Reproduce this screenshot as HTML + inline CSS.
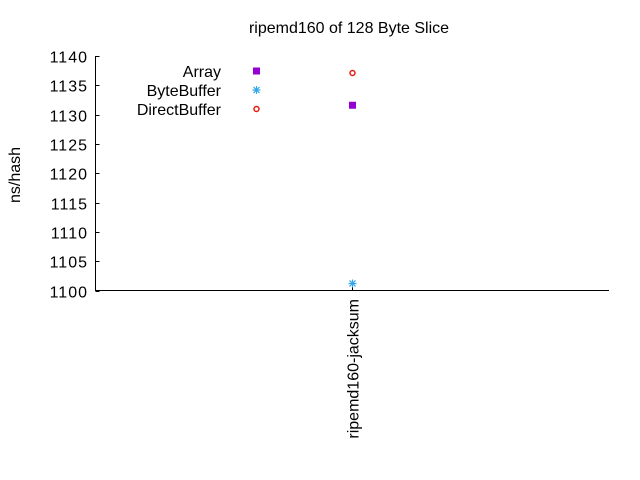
<!DOCTYPE html>
<html><head><meta charset="utf-8"><style>
html,body{margin:0;padding:0;background:#fff;}
svg{display:block;font-family:"Liberation Sans",sans-serif;}
</style></head><body>
<svg id="chart" width="640" height="480">
<text x="349" y="33" font-size="16" text-anchor="middle">ripemd160 of 128 Byte Slice</text>
<text transform="translate(20,175) rotate(-90)" font-size="16" text-anchor="middle">ns/hash</text>
<g id="axes"></g><g id="marks"></g><g id="legend"></g>
</svg>
<script>
const categories = ["ripemd160-jacksum"];
const seriesNames = ["Array","ByteBuffer","DirectBuffer"];
const arrayValues = [1131.6];
const byteBufferValues = [1101.2];
const directBufferValues = [1137.1];
const yTicks = [1100,1105,1110,1115,1120,1125,1130,1135,1140];

const NS="http://www.w3.org/2000/svg";
const x0=95.5,x1=609,yTop=56,yBot=290.5,yMin=1100,yMax=1140;
const yS=v=>yBot-(v-yMin)/(yMax-yMin)*(yBot-yTop);
const xS=i=>352.5+(i-(categories.length-1)/2)*0;
function mk(t,a,p){const e=document.createElementNS(NS,t);for(const k in a)e.setAttribute(k,a[k]);p.appendChild(e);return e;}
const axes=document.getElementById('axes'),marks=document.getElementById('marks'),legend=document.getElementById('legend');
let l=mk('path',{d:`M${x0} ${yTop}V${yBot}H${x1}`,stroke:'#000',fill:'none'},axes);


yTicks.forEach(v=>{
 const y=Math.round(yS(v))+0.5;
 const t=mk('line',{x1:x0,x2:x0+4,y1:y,y2:y,stroke:'#000'},axes);
 
 
 const tx=mk('text',{x:88,y:y+6,'font-size':16,'letter-spacing':1,'text-anchor':'end'},axes);
 tx.textContent=v;
 
 
});
categories.forEach((c,i)=>{
 const x=xS(i);
 const t=mk('line',{x1:x,x2:x,y1:yBot,y2:yBot-5,stroke:'#000'},axes);
 
 
 const tx=mk('text',{transform:`translate(${x+6},299) rotate(-90)`,'font-size':16,'text-anchor':'end'},axes);
 tx.textContent=c;
 
 
});
function square(g,x,y){mk('rect',{x:x-3.5,y:y-3.5,width:7,height:7,fill:'#9400d3'},g);}
function star(g,x,y){mk('path',{d:`M${x-4} ${y}H${x+4}M${x} ${y-4}V${y+4}M${x-3} ${y-3}L${x+3} ${y+3}M${x-3} ${y+3}L${x+3} ${y-3}`,stroke:'#35a8e8','stroke-width':1.2},g);}
function circ(g,x,y){mk('circle',{cx:x,cy:y,r:2.5,fill:'none',stroke:'#e51e10','stroke-width':1.5},g);}
const draws=[square,star,circ];
const vals=[arrayValues,byteBufferValues,directBufferValues];
vals.forEach((arr,s)=>arr.forEach((v,i)=>{
 const g=mk('g',{},marks);
 
 
 draws[s](g,xS(i),yS(v));
}));
seriesNames.forEach((n,s)=>{
 const y=71+s*19;
 const g=mk('g',{},legend);
 
 
 const tx=mk('text',{x:221,y:y+6,'font-size':16,'text-anchor':'end'},g);
 tx.textContent=n;
 draws[s](g,256.5,y);
});
</script>
</body></html>
